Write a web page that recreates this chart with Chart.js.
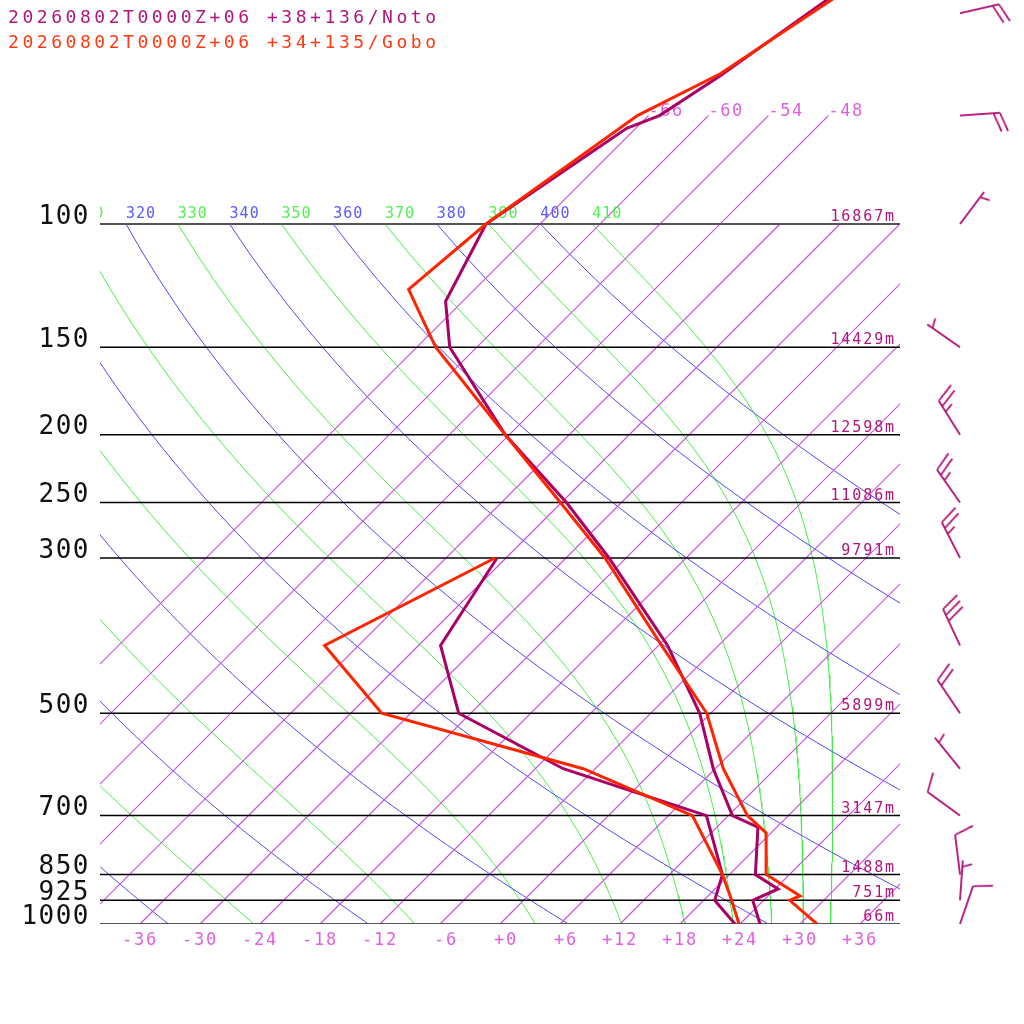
<!DOCTYPE html>
<html>
<head>
<meta charset="utf-8">
<title>skew-T Noto / Gobo</title>
<script src="https://cdn.jsdelivr.net/npm/chart.js@4.4.1/dist/chart.umd.min.js"></script>
<style>
  html, body { margin: 0; padding: 0; background: #fff; }
  #wrap { width: 1024px; height: 1024px; }
</style>
</head>
<body>
<div id="wrap"><canvas id="skewt" width="1024" height="1024"></canvas></div>
<script>
// station titles
const titleNoto = '20260802T0000Z+06 +38+136/Noto';
const titleGobo = '20260802T0000Z+06 +34+135/Gobo';

// Noto (magenta) temperature and dew point, hPa / degC
const notoTempP = [1000, 925, 891, 850, 727, 700, 600, 500, 400, 300, 250, 200, 150, 129, 100, 73, 70, 61.4, 40];
const notoTemp = [26.0, 22.9, 24.3, 20.6, 16.1, 12.4, 5.8, -1.1, -11.1, -25.7, -35.5, -48.4, -62.7, -67.7, -71.4, -66.9, -64.9, -62.8, -57.5];
const notoDewP = [1000, 925, 850, 700, 600, 500, 400, 300];
const notoDew = [23.5, 19.1, 17.3, 9.8, -9.2, -25.2, -33.8, -36.9];

// Gobo (red) temperature and dew point
const goboTempP = [1000, 925, 912, 850, 741, 700, 600, 500, 400, 300, 250, 200, 150, 124, 100, 70, 61, 40];
const goboTemp = [31.7, 26.6, 27.2, 21.7, 17.5, 13.9, 6.8, -0.4, -11.7, -26.1, -36.1, -48.4, -64.1, -72.6, -71.4, -67.1, -63.0, -56.5];
const goboDewP = [1000, 925, 850, 700, 600, 500, 400, 300];
const goboDew = [23.9, 20.8, 17.3, 8.4, -7.2, -32.9, -45.4, -37.1];

// Noto winds: direction (deg from north), speed (kt)
const windP = [50, 70, 100, 150, 200, 250, 300, 400, 500, 600, 700, 850, 925, 1000];
const windDir = [77, 86, 37, 305, 328, 325, 333, 335, 326, 321, 306, 353, 4, 19];
const windSpd = [20, 20, 5, 5, 25, 25, 25, 30, 20, 5, 10, 10, 5, 10];

// isobars and their geopotential heights
const pressureTicks = [100, 150, 200, 250, 300, 500, 700, 850, 925, 1000];
const levelHeights = [16867, 14429, 12598, 11086, 9791, 5899, 3147, 1488, 751, 66];

// isotherms, bottom tick labels, isotherms carried up to 70 hPa
const isotherms = [-66, -60, -54, -48, -42, -36, -30, -24, -18, -12, -6, 0, 6, 12, 18, 24, 30, 36];
const tempTicks = [-36, -30, -24, -18, -12, -6, 0, 6, 12, 18, 24, 30, 36];
const isothermsTop = [-66, -60, -54, -48];

// dry adiabats (blue) and pseudo-adiabats (green), labelled by theta at 100 hPa
const dryTheta = [240, 260, 280, 300, 320, 340, 360, 380, 400];
const moistTheta = [230, 250, 270, 290, 310, 330, 350, 370, 390, 410];

const FONT = '"DejaVu Sans Mono", "Liberation Mono", monospace';
const ISO_COLOR = 'rgb(205,80,225)';
const SKEW = 70;            // x units per decade of pressure -> 45 degree isotherms
const P_TOP = 1000 / Math.pow(10, 924 / 700);
const KAPPA = 0.2857;

function skewX(p, t) { return t + SKEW * Math.log10(1000 / p); }
function profile(ps, ts) { return ps.map((p, i) => ({ x: skewX(p, ts[i]), y: p })); }

function dryCurve(theta) {
  const pts = [];
  for (let p = 100; p <= 1000; p += 10) {
    pts.push({ x: skewX(p, theta * Math.pow(p / 1000, KAPPA) - 273.15), y: p });
  }
  return pts;
}

function moistLapse(p, tK) {
  const tc = tK - 273.15;
  const es = 6.112 * Math.exp(17.67 * tc / (tc + 243.5));
  const rs = 0.622 * es / (p - es);
  const num = 287.04 * tK + 2.501e6 * rs;
  const den = 1005.7 + (2.501e6 * 2.501e6 * rs * 0.622) / (287.04 * tK * tK);
  return num / den / p;
}

function moistCurve(theta) {
  let t = theta * Math.pow(0.1, KAPPA);
  let p = 100;
  const dp = 2;
  const pts = [{ x: skewX(p, t - 273.15), y: p }];
  while (p < 1000) {
    const k1 = moistLapse(p, t);
    const k2 = moistLapse(p + dp / 2, t + k1 * dp / 2);
    const k3 = moistLapse(p + dp / 2, t + k2 * dp / 2);
    const k4 = moistLapse(p + dp, t + k3 * dp);
    t += dp * (k1 + 2 * k2 + 2 * k3 + k4) / 6;
    p += dp;
    if (p % 10 === 0) pts.push({ x: skewX(p, t - 273.15), y: p });
  }
  return pts;
}

function isothermLine(t) {
  const top = isothermsTop.includes(t) ? 70 : 100;
  return [{ x: t, y: 1000 }, { x: skewX(top, t), y: top }];
}

// one wind barb per level, staff pointing north, rotated by the chart
function barbCanvas(speed) {
  const S = 130, c = S / 2;
  const cv = document.createElement('canvas');
  cv.width = S; cv.height = S;
  const g = cv.getContext('2d');
  g.strokeStyle = '#b00f74';
  g.lineWidth = 1.8;
  const L = 40, step = 6.5, ang = -20 * Math.PI / 180;
  const full = Math.floor(speed / 10);
  const half = speed % 10 >= 5;
  g.beginPath();
  g.moveTo(c, c);
  g.lineTo(c, c - L);
  const feather = (d, len) => {
    g.moveTo(c, c - d);
    g.lineTo(c + len * Math.cos(ang), c - d + len * Math.sin(ang));
  };
  let pos = full === 0 ? L - step : L;
  for (let i = 0; i < full; i++) { feather(pos, 20); pos -= step; }
  if (half) feather(pos, 10);
  g.stroke();
  return cv;
}

function spacedText(ctx, text, x, y, size, color, spacing, align) {
  ctx.save();
  ctx.font = size + 'px ' + FONT;
  ctx.fillStyle = color;
  ctx.textAlign = align || 'left';
  ctx.textBaseline = 'alphabetic';
  if ('letterSpacing' in ctx) ctx.letterSpacing = spacing + 'px';
  ctx.fillText(text, x, y);
  ctx.restore();
}

// grid lines are clipped to the 100..900 px plot box; the barbs sit to the right of it
const gridClip = { left: 0, top: 0, right: -124, bottom: 0 };
function gridLine(label, pts, color, width, order) {
  return {
    type: 'line', label: label, data: pts, order: order, clip: gridClip,
    pointRadius: 0, pointHoverRadius: 0, tension: 0, fill: false,
    borderColor: color, backgroundColor: color, borderWidth: width,
    segment: { borderColor: () => color }
  };
}
function profileLine(label, pts, color, order) {
  return {
    type: 'line', label: label, data: pts, order: order,
    pointRadius: 0, pointHoverRadius: 0, tension: 0, fill: false,
    borderColor: color, backgroundColor: color, borderWidth: 3
  };
}

const datasets = [
  profileLine('Gobo T', profile(goboTempP, goboTemp), '#ff2400', 0),
  profileLine('Gobo Td', profile(goboDewP, goboDew), '#ff2400', 1),
  profileLine('Noto T', profile(notoTempP, notoTemp), '#aa0066', 2),
  profileLine('Noto Td', profile(notoDewP, notoDew), '#aa0066', 3),
  {
    type: 'scatter', label: 'Noto wind', showLine: false, order: 4, clip: false,
    data: windP.map(p => ({ x: 46, y: p })),
    pointStyle: windSpd.map(barbCanvas),
    pointRotation: windDir,
    pointRadius: 3,
    borderColor: '#b00f74',
    backgroundColor: '#b00f74'
  }
];
const EDGE_INDEX = datasets.length;
pressureTicks.forEach(p => {
  const edge = p === 100 || p === 1000;
  datasets.push(gridLine(p + ' hPa', [{ x: -40, y: p }, { x: 40, y: p }],
    edge ? '#555555' : '#000000', edge ? 2.2 : 1.5, edge ? 5 : 6));
});
isotherms.forEach(t => datasets.push(gridLine('T ' + t, isothermLine(t), ISO_COLOR, 1.2, 7)));
dryTheta.forEach(th => datasets.push(gridLine('theta ' + th, dryCurve(th), '#4b4bf5', 1, 8)));
moistTheta.forEach(th => datasets.push(gridLine('theta-e ' + th, moistCurve(th), '#44ee44', 1, 9)));

const labelPlugin = {
  id: 'skewLabels',
  beforeDraw(chart) {
    // left pressure labels
    if ('letterSpacing' in chart.ctx) chart.ctx.letterSpacing = '1.5px';
  },
  afterDatasetDraw(chart, args) {
    if (args.index !== EDGE_INDEX) return;
    const ctx = chart.ctx;
    const xs = chart.scales.x, ys = chart.scales.y;
    const area = chart.chartArea;

    spacedText(ctx, titleNoto, 8, 23, 18, '#b0167a', 3.55);
    spacedText(ctx, titleGobo, 8, 48, 18, '#ff3a12', 3.55);

    // theta labels on the 100 hPa line
    ctx.save();
    ctx.beginPath();
    ctx.rect(area.left, 0, xs.getPixelForValue(40) - area.left, area.bottom);
    ctx.clip();
    const y100 = ys.getPixelForValue(100) - 6;
    dryTheta.forEach(th => {
      const x = xs.getPixelForValue(skewX(100, th * Math.pow(0.1, KAPPA) - 273.15));
      spacedText(ctx, String(th), x, y100, 15, '#5a5aff', 1);
    });
    moistTheta.forEach(th => {
      const x = xs.getPixelForValue(skewX(100, th * Math.pow(0.1, KAPPA) - 273.15));
      spacedText(ctx, String(th), x, y100, 15, '#55ee55', 1);
    });
    ctx.restore();
    ctx.beginPath();

    // isotherm labels at 70 hPa
    const y70 = ys.getPixelForValue(70);
    isothermsTop.forEach(t => {
      spacedText(ctx, String(t), xs.getPixelForValue(skewX(70, t)), y70, 17, '#e060e0', 1.5);
    });

    // heights on the isobars
    const xr = xs.getPixelForValue(40) - 4;
    pressureTicks.forEach((p, i) => {
      spacedText(ctx, levelHeights[i] + 'm', xr, ys.getPixelForValue(p) - 3, 15, '#b0167a', 1.9, 'right');
    });
  },
  afterDatasetsDraw(chart) {
    // bottom temperature labels are drawn after this (ticks.z = 1)
    if ('letterSpacing' in chart.ctx) chart.ctx.letterSpacing = '1.8px';
  },
  afterDraw(chart) {
    if ('letterSpacing' in chart.ctx) chart.ctx.letterSpacing = '0px';
  }
};

new Chart(document.getElementById('skewt').getContext('2d'), {
  type: 'scatter',
  data: { datasets },
  options: {
    responsive: false,
    devicePixelRatio: 1,
    animation: false,
    events: [],
    layout: { padding: 0, autoPadding: false },
    plugins: { legend: { display: false }, tooltip: { enabled: false }, title: { display: false }, colors: { enabled: false } },
    scales: {
      x: {
        type: 'linear',
        position: 'bottom',
        min: -40,
        max: 52.4,
        grid: { display: false, drawTicks: false },
        border: { display: false },
        afterBuildTicks: s => { s.ticks = tempTicks.map(v => ({ value: v })); },
        afterFit: s => { s.height = 100; s.paddingLeft = 0; s.paddingRight = 0; },
        ticks: {
          z: 1,
          autoSkip: false,
          maxRotation: 0,
          minRotation: 0,
          padding: 6,
          color: '#e060e0',
          font: { family: FONT, size: 17 },
          callback: v => ((v >= 0 ? '+' : '') + v).padStart(3, ' ')
        }
      },
      y: {
        type: 'logarithmic',
        position: 'left',
        reverse: true,
        min: P_TOP,
        max: 1000,
        grid: { display: false, drawTicks: false },
        border: { display: false },
        afterBuildTicks: s => { s.ticks = pressureTicks.map(v => ({ value: v })); },
        afterFit: s => { s.width = 100; s.paddingTop = 0; s.paddingBottom = 0; },
        ticks: {
          autoSkip: false,
          padding: 10,
          labelOffset: -7,
          color: '#111',
          font: { family: FONT, size: 26 },
          callback: v => String(v)
        }
      }
    }
  },
  plugins: [labelPlugin]
});
</script>
</body>
</html>
